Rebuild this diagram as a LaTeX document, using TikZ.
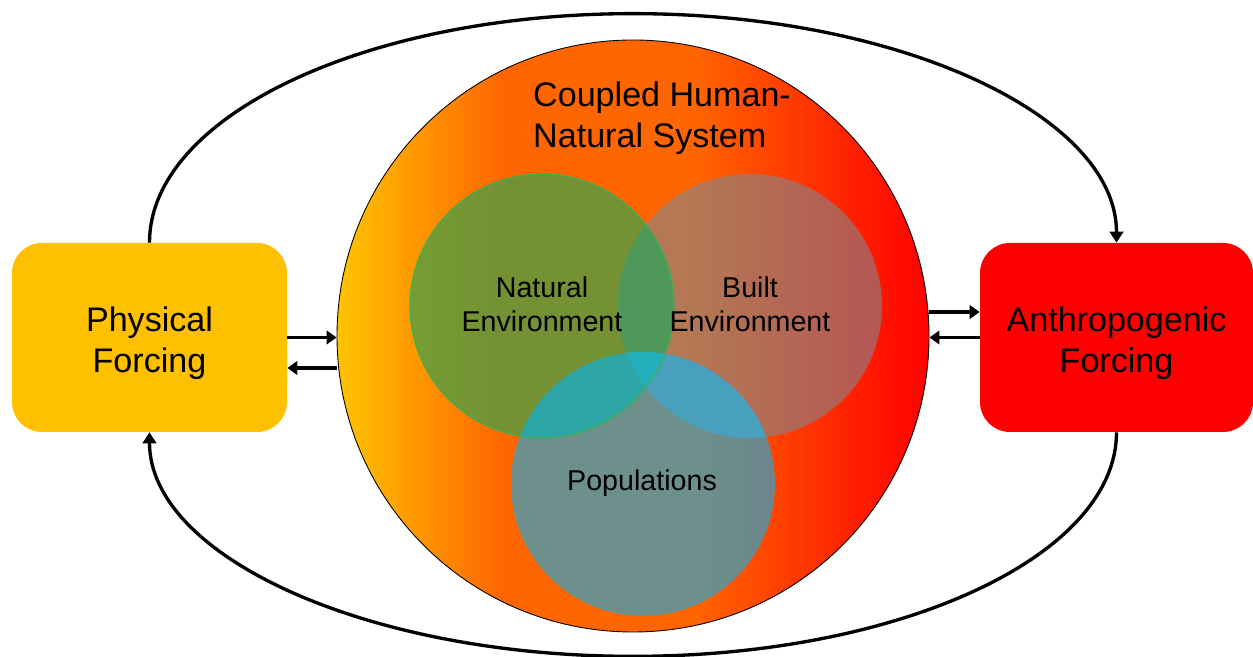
\documentclass[tikz,border=0pt]{standalone}
\usepackage{fontspec}
\setmainfont{Liberation Sans}
\usepackage{xcolor}
\usepackage{tikz}
\usetikzlibrary{calc,arrows.meta}

\definecolor{physcol}{RGB}{255,192,0}
\definecolor{anthcol}{RGB}{255,0,0}
\definecolor{sysyel}{RGB}{255,196,0}
\definecolor{sysorg}{RGB}{255,102,0}
\definecolor{sysred}{RGB}{255,0,0}
\definecolor{natcol}{RGB}{70,160,70}
\definecolor{natline}{RGB}{60,176,84}
\definecolor{bltcol}{RGB}{130,132,141}
\definecolor{popcol}{RGB}{48,163,200}
\definecolor{natblt}{RGB}{78,152,90}
\definecolor{natpop}{RGB}{45,166,166}
\definecolor{bltpop}{RGB}{72,160,188}
\definecolor{allthree}{RGB}{35,176,188}

\pgfdeclarehorizontalshading{sysshade}{100bp}{color(0bp)=(sysyel); color(25bp)=(sysyel);
  color(39bp)=(sysorg); color(55bp)=(sysorg); color(75bp)=(sysred); color(100bp)=(sysred)}

\tikzset{
  forcing/.style={rounded corners=0.6cm, minimum height=3.78cm},
  forcetext/.style={align=center, yshift=-1.2mm, font=\fontsize{19.4}{23.5}\selectfont},
  venn/.style={circle, minimum size=5.28cm, inner sep=0pt},
  venntext/.style={align=center, font=\fontsize{16.3}{19.4}\selectfont},
  feedback/.style={line width=2.2pt, -{Triangle[length=2mm,width=2.7mm]}},
  loop/.style={line width=1.9pt, -{Triangle[length=2.2mm,width=2.7mm]}},
}

\begin{document}
\begin{tikzpicture}
  \useasboundingbox (0,0) rectangle (25.06,13.14);

  % outer system and the two drivers
  \node[circle, draw=black, line width=0.5pt, shade, shading=sysshade,
        minimum size=11.84cm, inner sep=0pt] (sys) at (12.66,6.42) {};
  \node[forcing, fill=physcol, minimum width=5.5cm,
        label={[forcetext]center:Physical\\Forcing}] (phys) at (2.99,6.39) {};
  \node[forcing, fill=anthcol, minimum width=5.46cm,
        label={[forcetext]center:Anthropogenic\\Forcing}] (anthro) at (22.33,6.39) {};

  \node[align=left, anchor=west, font=\fontsize{19.4}{23.5}\selectfont] (title)
    at (10.54,10.78) {Coupled Human-\\Natural System};

  % venn circles
  \node[venn, fill=bltcol, fill opacity=0.6] (built) at (15.00,7.02) {};
  \node[venn, fill=natcol, fill opacity=0.75] (natural) at (10.84,7.02) {};
  \node[venn, fill=popcol, fill opacity=0.7] (pops) at (12.86,3.46) {};

  % overlaps
  \begin{scope}
    \clip (natural.center) circle[radius=2.64];
    \fill[natblt] (built.center) circle[radius=2.64];
    \fill[natpop] (pops.center) circle[radius=2.64];
  \end{scope}
  \begin{scope}
    \clip (built.center) circle[radius=2.64];
    \fill[bltpop] (pops.center) circle[radius=2.64];
    \clip (natural.center) circle[radius=2.64];
    \fill[allthree] (pops.center) circle[radius=2.64];
  \end{scope}
  \draw[natline, line width=0.6pt] (natural.center) circle[radius=2.64];

  \node[venntext] (natlabel) at (10.84,7.06) {Natural\\Environment};
  \node[venntext] (bltlabel) at (15.00,7.06) {Built\\Environment};
  \node[venntext] (poplabel) at (12.84,3.48) {Populations};

  % exchanges with the system
  \coordinate (pl) at ([yshift=-6.1mm]phys.east);
  \coordinate (ar) at ([yshift=5.1mm]anthro.west);
  \draw[feedback] (phys.east) -- (phys.east -| sys.west);
  \draw[feedback] (pl -| sys.west) -- (pl);
  \draw[feedback] (ar -| sys.east) -- (ar);
  \draw[feedback] (anthro.west) -- (anthro.west -| sys.east);

  % outer loops
  \draw[loop] (phys.north) arc[start angle=180, end angle=0, x radius=9.67cm, y radius=4.58cm];
  \draw[loop] (anthro.south) arc[start angle=0, end angle=-180, x radius=9.67cm, y radius=4.48cm];
\end{tikzpicture}
\end{document}
